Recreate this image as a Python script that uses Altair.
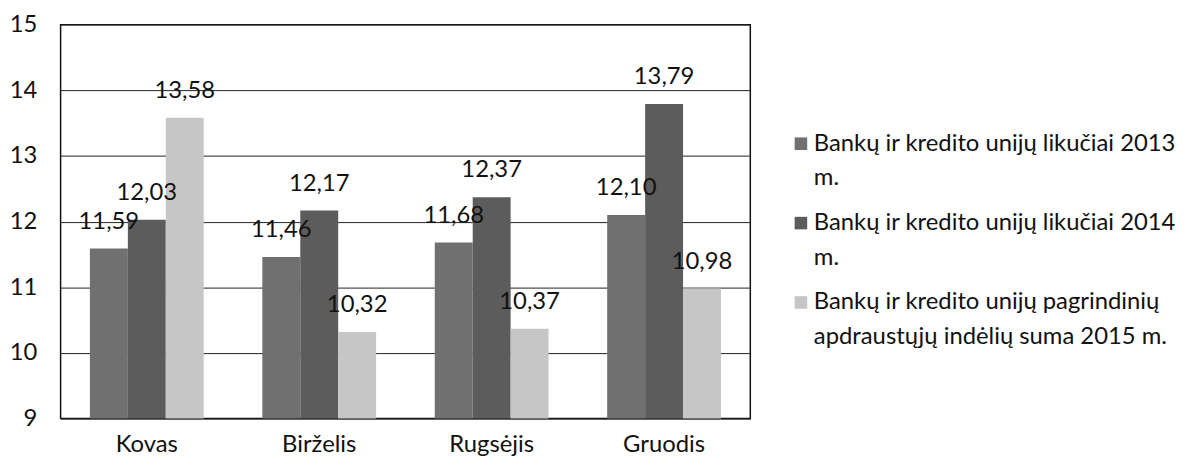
import altair as alt
import pandas as pd

months = ["Kovas", "Birželis", "Rugsėjis", "Gruodis"]
series = [
    "Bankų ir kredito unijų likučiai 2013 m.",
    "Bankų ir kredito unijų likučiai 2014 m.",
    "Bankų ir kredito unijų pagrindinių apdraustųjų indėlių suma 2015 m.",
]
legend_line1 = [
    "Bankų ir kredito unijų likučiai 2013",
    "Bankų ir kredito unijų likučiai 2014",
    "Bankų ir kredito unijų pagrindinių",
]
legend_line2 = ["m.", "m.", "apdraustųjų indėlių suma 2015 m."]
v2013 = [11.59, 11.46, 11.68, 12.10]
v2014 = [12.03, 12.17, 12.37, 13.79]
v2015 = [13.58, 10.32, 10.37, 10.98]
y_ticks = [9, 10, 11, 12, 13, 14, 15]
colors = ["#707070", "#5c5c5c", "#c6c6c6"]

FONT = "Lato"
FS = 24

rows = []
for s, vals in zip(series, [v2013, v2014, v2015]):
    for m, v in zip(months, vals):
        rows.append({"month": m, "series": s, "value": v,
                     "label": f"{v:.2f}".replace(".", ",")})
df = pd.DataFrame(rows)

leg = pd.DataFrame({"series": series, "l1": legend_line1, "l2": legend_line2})

color_scale = alt.Scale(domain=series, range=colors)

x_enc = alt.X("month:N", sort=months,
              scale=alt.Scale(paddingInner=0.34, paddingOuter=0.17),
              axis=alt.Axis(title=None, labelAngle=0, ticks=False, domain=False,
                            labelFontSize=FS, labelFont=FONT, labelColor="#111",
                            labelPadding=14))
xo_enc = alt.XOffset("series:N", sort=series)
y_enc = alt.Y("value:Q",
              scale=alt.Scale(domain=[9, 15], zero=False, nice=False),
              axis=alt.Axis(title=None, values=y_ticks, format="d", ticks=False,
                            domain=False, grid=True, gridColor="#222", gridWidth=1,
                            labelFontSize=FS, labelFont=FONT, labelColor="#111",
                            labelPadding=24))

bars = alt.Chart(df).mark_bar().encode(
    x=x_enc, xOffset=xo_enc, y=y_enc, y2=alt.datum(9),
    color=alt.Color("series:N", scale=color_scale, legend=None),
)
labels = alt.Chart(df).mark_text(
    dy=-27, fontSize=FS, font=FONT, color="#111", baseline="middle", align="center"
).encode(
    x=alt.X("month:N", sort=months), xOffset=xo_enc, y=alt.Y("value:Q"),
    text="label:N",
)
main = alt.layer(bars, labels).properties(
    width=695, height=397,
    view=alt.ViewBackground(stroke="#111", strokeWidth=1.5),
)

ly = alt.Y("series:N", sort=series, axis=None,
           scale=alt.Scale(type="point", range=[120, 280], padding=0))
sq = alt.Chart(leg).mark_square(size=160, opacity=1).encode(
    x=alt.value(30), y=ly,
    color=alt.Color("series:N", scale=color_scale, legend=None),
)
t1 = alt.Chart(leg).mark_text(align="left", baseline="middle", fontSize=FS,
                              font=FONT, color="#111").encode(
    x=alt.value(43), y=ly, text="l1:N")
t2 = alt.Chart(leg).mark_text(align="left", baseline="middle", fontSize=FS,
                              font=FONT, color="#111", dy=35).encode(
    x=alt.value(43), y=ly, text="l2:N")
legend = alt.layer(sq, t1, t2).properties(
    width=395, height=397,
    view=alt.ViewBackground(strokeWidth=0),
)

chart = alt.hconcat(main, legend, spacing=20).properties(
    padding={"left": 0, "top": 2, "right": 5, "bottom": 5}
).configure(background="white").configure_view(strokeWidth=0)

chart.save("out.html", embed_options={"renderer": "svg", "actions": False})
